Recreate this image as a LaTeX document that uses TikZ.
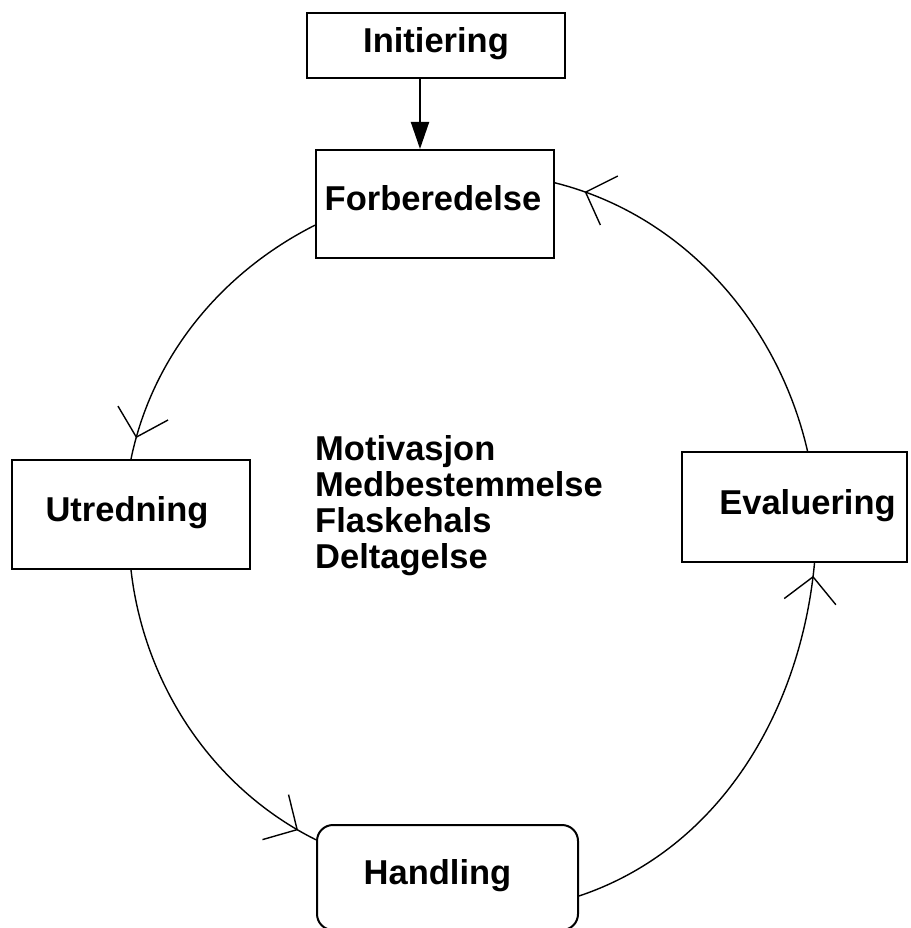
\documentclass[tikz,border=0pt]{standalone}
\usepackage{fontspec}
\setmainfont{Liberation Sans}
\usetikzlibrary{arrows.meta,decorations.markings}

\begin{document}
\begin{tikzpicture}[x=1pt,y=1pt,
  every node/.style={font=\fontsize{34.5}{35.7}\selectfont\bfseries},
  box/.style={draw, line width=2pt, inner sep=0pt},
  roundbox/.style={box, rounded corners=16pt},
  lbl/.style={inner sep=0pt, text height=23.7pt, text depth=0pt},
  cycle/.style={line width=1.4pt, decoration={markings,
      mark=at position #1 with {\arrow[line width=1.4pt]{Straight Barb[length=25pt,width=52pt]}}},
      postaction={decorate}},
  feed/.style={line width=2pt, -{Triangle[length=27pt,width=18pt]}}
]
\useasboundingbox (0,0) rectangle (910,-928);

% boxes of the process
\node[box, minimum width=258pt, minimum height=65pt,
      label={[lbl, yshift=4.5pt]center:Initiering}] (init) at (436,-45.5) {};
\node[box, minimum width=238pt, minimum height=108pt,
      label={[lbl, xshift=-2pt, yshift=5.5pt]center:Forberedelse}] (forb) at (435,-204) {};
\node[box, minimum width=238pt, minimum height=109pt,
      label={[lbl, xshift=-4pt, yshift=4.5pt]center:Utredning}] (utr) at (131,-514.5) {};
\node[box, minimum width=225pt, minimum height=110pt,
      label={[lbl, xshift=13pt, yshift=4pt]center:Evaluering}] (eval) at (794.5,-507) {};
\node[roundbox, minimum width=261pt, minimum height=105pt,
      label={[lbl, xshift=-10pt, yshift=4.5pt]center:Handling}] (hand) at (447.5,-877.5) {};

% key words in the middle of the cycle (anchored at the last line)
\node[anchor=base west, align=left, inner sep=0pt] (words) at (315,-568)
  {Motivasjon\\Medbestemmelse\\Flaskehals\\Deltagelse};

% start of the process
\draw[feed] (init.south -| 420,0) -- (forb.north -| 420,0);

% the cycle
\draw[cycle=0.93] (forb.190) to[out=206.8, in=78.3, looseness=0.9] (utr.north);
\draw[cycle=0.94] (utr.south) to[out=276.5, in=153.6, looseness=0.9] (hand.164);
\draw[cycle=0.97] (hand.-8) to[out=18.5, in=264.7, looseness=0.93] ([xshift=20pt]eval.south);
\draw[cycle=0.92] ([xshift=13pt]eval.north) to[out=103, in=-14.1, looseness=0.92] (forb.10);
\end{tikzpicture}
\end{document}
